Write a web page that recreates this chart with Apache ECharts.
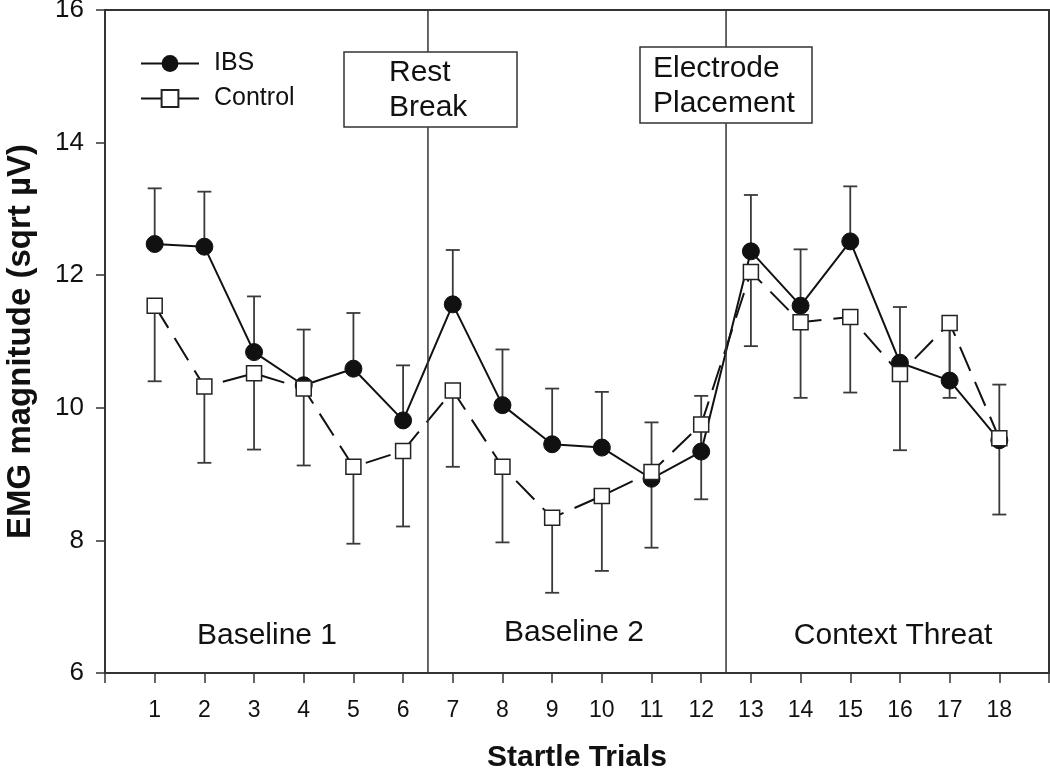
<!DOCTYPE html>
<html>
<head>
<meta charset="utf-8">
<script src="https://cdn.jsdelivr.net/npm/echarts@6/dist/echarts.min.js"></script>
<style>
  html, body { margin: 0; padding: 0; background: #fff; }
  #chart { width: 1050px; height: 779px; }
</style>
</head>
<body>
<div id="chart"></div>
<script>
// startle trials 1..18
var trials = [1, 2, 3, 4, 5, 6, 7, 8, 9, 10, 11, 12, 13, 14, 15, 16, 17, 18]
// IBS means and top of error bar
var ibs = [12.47, 12.43, 10.84, 10.34, 10.59, 9.81, 11.56, 10.04, 9.45, 9.40, 8.93, 9.34, 12.36, 11.54, 12.51, 10.68, 10.41, 9.51]
var ibsUpper = [13.31, 13.26, 11.68, 11.18, 11.43, 10.64, 12.38, 10.88, 10.29, 10.24, 9.78, 10.18, 13.21, 12.39, 13.34, 11.52, 11.25, 10.35]
// Control means and bottom of error bar
var control = [11.54, 10.32, 10.52, 10.29, 9.11, 9.35, 10.26, 9.11, 8.34, 8.67, 9.03, 9.75, 12.05, 11.29, 11.37, 10.51, 11.28, 9.54]
var controlLower = [10.40, 9.17, 9.37, 9.13, 7.95, 8.21, 9.11, 7.97, 7.21, 7.54, 7.89, 8.62, 10.93, 10.15, 10.23, 9.36, 10.15, 8.39]
// phase boundaries, and where the note boxes interrupt them (y values)
var breaks = [6.5, 12.5]
var boxBottom = [14.23, 14.29]
var boxTop = [15.37, 15.44]

var FONT = "'Liberation Sans', Arial, sans-serif"
var INK = '#333'

function pairs(ys) {
  return trials.map(function (t, i) { return [t, ys[i]] })
}
function barData(ys, ends) {
  return trials.map(function (t, i) { return [t, ys[i], ends[i]] })
}

function errorBar(params, api) {
  var p0 = api.coord([api.value(0), api.value(1)])
  var p1 = api.coord([api.value(0), api.value(2)])
  var half = 7
  var style = { stroke: '#3a3a3a', lineWidth: 1.8 }
  return {
    type: 'group',
    children: [
      { type: 'line', shape: { x1: p0[0], y1: p0[1], x2: p1[0], y2: p1[1] }, style: style },
      { type: 'line', shape: { x1: p1[0] - half, y1: p1[1], x2: p1[0] + half, y2: p1[1] }, style: style }
    ]
  }
}

function noteBox(x, y, w, h, tx, text) {
  return [
    { type: 'rect', z: 100, shape: { x: x, y: y, width: w, height: h }, style: { fill: '#fff', stroke: INK, lineWidth: 1.5 } },
    { type: 'text', z: 101, x: tx, y: y + h / 2 + 1, style: { text: text, font: '30px ' + FONT, fill: '#111', lineHeight: 35, verticalAlign: 'middle' } }
  ]
}

function phaseLabel(x, y, text) {
  return { type: 'text', z: 100, x: x, y: y, style: { text: text, font: '30px ' + FONT, fill: '#111', align: 'center', verticalAlign: 'middle' } }
}

var chart = echarts.init(document.getElementById('chart'))
chart.setOption({
  animation: false,
  backgroundColor: '#fff',
  grid: {
    left: 105, right: 1, top: 10, bottom: 106,
    containLabel: false,
    outerBoundsMode: 'none',
    show: true, borderColor: INK, borderWidth: 2, backgroundColor: 'transparent'
  },
  legend: {
    left: 140,
    top: 51,
    padding: 0,
    orient: 'vertical',
    itemWidth: 58,
    itemHeight: 21,
    itemGap: 10,
    textStyle: { fontFamily: FONT, fontSize: 25, color: '#111', padding: [0, 0, 0, 10] },
    data: [
      { name: 'IBS' },
      { name: 'Control', lineStyle: { type: 'solid' } }
    ]
  },
  xAxis: {
    type: 'value',
    min: 0,
    max: 19,
    interval: 1,
    name: 'Startle Trials',
    nameLocation: 'middle',
    nameGap: 70,
    nameTextStyle: { fontFamily: FONT, fontSize: 30, fontWeight: 'bold', color: '#111' },
    axisLine: { lineStyle: { color: INK, width: 2 } },
    axisTick: { inside: false, length: 10, lineStyle: { color: INK, width: 1.5 } },
    axisLabel: {
      margin: 26,
      fontFamily: FONT, fontSize: 23, color: '#111',
      formatter: function (v) { return trials.indexOf(v) >= 0 ? String(v) : '' }
    },
    splitLine: { show: false }
  },
  yAxis: {
    type: 'value',
    min: 6,
    max: 16,
    interval: 2,
    name: 'EMG magnitude (sqrt \u00b5V)',
    nameLocation: 'middle',
    nameGap: 68,
    nameTextStyle: { fontFamily: FONT, fontSize: 33, fontWeight: 'bold', color: '#111' },
    axisLine: { show: true, lineStyle: { color: INK, width: 2 } },
    axisTick: { show: true, inside: false, length: 9, lineStyle: { color: INK, width: 1.5 } },
    axisLabel: { margin: 21, fontFamily: FONT, fontSize: 26, color: '#111' },
    splitLine: { show: false }
  },
  series: [
    {
      name: 'ibsErr',
      type: 'custom',
      renderItem: errorBar,
      data: barData(ibs, ibsUpper),
      silent: true,
      z: 1
    },
    {
      name: 'controlErr',
      type: 'custom',
      renderItem: errorBar,
      data: barData(control, controlLower),
      silent: true,
      z: 1
    },
    {
      name: 'IBS',
      type: 'line',
      data: pairs(ibs),
      symbol: 'circle',
      symbolSize: 17,
      lineStyle: { color: '#111', width: 2 },
      itemStyle: { color: '#111', borderColor: '#111' },
      z: 3
    },
    {
      name: 'Control',
      type: 'line',
      data: pairs(control),
      symbol: 'rect',
      symbolSize: 15,
      lineStyle: { color: '#111', width: 2, type: [26, 12] },
      itemStyle: { color: '#fff', borderColor: '#222', borderWidth: 1.5 },
      z: 4
    }
  ]
})

// break lines, split around the note boxes, then the boxes and phase labels
var overlay = []
breaks.forEach(function (b, i) {
  var segs = [[6, boxBottom[i]], [boxTop[i], 16]]
  segs.forEach(function (s) {
    var a = chart.convertToPixel({ gridIndex: 0 }, [b, s[0]])
    var c = chart.convertToPixel({ gridIndex: 0 }, [b, s[1]])
    overlay.push({ type: 'line', z: 50, shape: { x1: a[0], y1: a[1], x2: c[0], y2: c[1] }, style: { stroke: INK, lineWidth: 1.5 } })
  })
})
overlay = overlay
  .concat(noteBox(344, 52, 173, 75, 389, 'Rest\nBreak'))
  .concat(noteBox(640, 47, 172, 76, 653, 'Electrode\nPlacement'))
  .concat([
    phaseLabel(267, 636, 'Baseline 1'),
    phaseLabel(574, 633, 'Baseline 2'),
    phaseLabel(893, 636, 'Context Threat')
  ])
chart.setOption({ graphic: overlay })
</script>
</body>
</html>
